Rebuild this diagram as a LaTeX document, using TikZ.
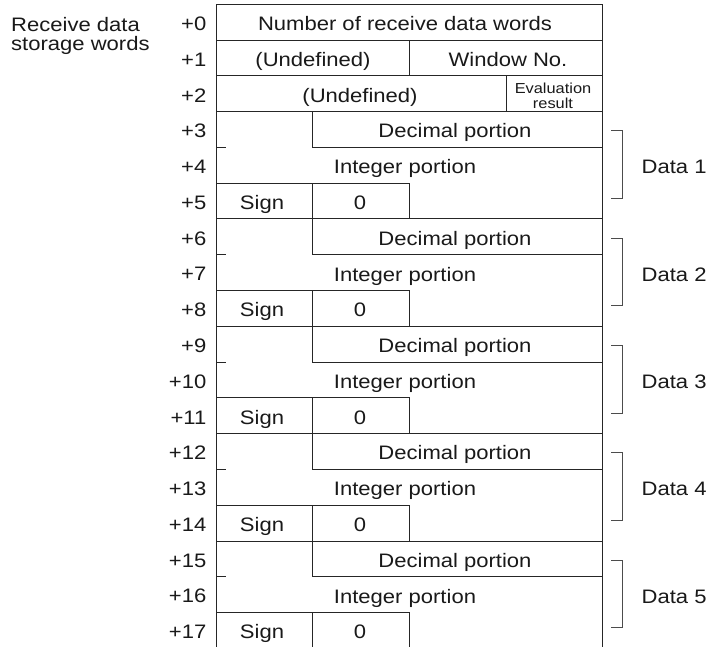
\documentclass[tikz,border=0pt]{standalone}
\usepackage{fontspec}
\setmainfont{Liberation Sans}[FakeStretch=1.13]

\begin{document}
\begin{tikzpicture}[x=1pt, y=-1pt, font=\fontsize{19.5}{22}\selectfont,
    tbl/.style={line width=1pt, draw=black!85},
    brk/.style={line width=0.8pt, draw=black!70},
    lbl/.style={inner sep=0pt, anchor=base, text=black!90}]
            % Cadre de l'image
            \useasboundingbox (0,0) rectangle (708,646);
            
            % Titre a gauche
            \node[lbl, anchor=base west] (titre1) at (11,31.5) {Receive data};
            \node[lbl, anchor=base west] (titre2) at (11,50.5) {storage words};
            
            % Contour du tableau
            \draw[tbl] (216,650) -- (216,4.3) -- (602.3,4.3) -- (602.3,650);
            
            % Mots d'en-tete (+0 a +2)
            \draw[tbl] (216,40.08) -- (602.3,40.08);
            \draw[tbl] (216,75.86) -- (602.3,75.86);
            \draw[tbl] (216,111.64) -- (602.3,111.64);
            \draw[tbl] (409.3,40.08) -- (409.3,75.86);
            \draw[tbl] (506.7,75.86) -- (506.7,111.64);
            \node[lbl] (nombre) at (405,30.5) {Number of receive data words};
            \node[lbl] (indef1) at (313,66.3) {(Undefined)};
            \node[lbl] (fenetre) at (508,66.3) {Window No.};
            \node[lbl] (indef2) at (360,102.1) {(Undefined)};
            \node[lbl, font=\fontsize{14.5}{15}\selectfont] (eval1) at (553,93) {Evaluation};
            \node[lbl, font=\fontsize{14.5}{15}\selectfont] (eval2) at (553,108.5) {result};
            
            % Numeros des mots
            \foreach \k in {0,...,17}
                \node[lbl, anchor=base east] (mot\k) at (206.5,{30.5+35.78*\k}) {+\k};
            
            % Blocs de donnees (Data 1 a Data 5)
            \foreach \i [evaluate=\i as \yb using 111.64+107.34*\i,
                         evaluate=\i as \n using int(\i+1)] in {0,...,4} {
                \draw[tbl] (312,\yb) rectangle (602.3,\yb+35.78);
                \node[lbl] (dec\n) at (455,\yb+26.3) {Decimal portion};
                \draw[tbl] (216,\yb+35.78) -- (226,\yb+35.78);
                \node[lbl] (ent\n) at (405,\yb+62.1) {Integer portion};
                \draw[tbl] (216,\yb+71.56) rectangle (409,\yb+107.34);
                \draw[tbl] (312,\yb+71.56) -- (312,\yb+107.34);
                \draw[tbl] (409,\yb+107.34) -- (602.3,\yb+107.34);
                \node[lbl] (signe\n) at (262,\yb+97.9) {Sign};
                \node[lbl] (zero\n) at (360,\yb+97.9) {0};
                % Accolade droite
                \draw[brk] (611,\yb+19) -- (622.7,\yb+19) -- (622.7,\yb+86.6) -- (611,\yb+86.6);
                \node[lbl, anchor=base west] (data\n) at (641.5,\yb+62.3) {Data \n};
            }
        \end{tikzpicture}
\end{document}
